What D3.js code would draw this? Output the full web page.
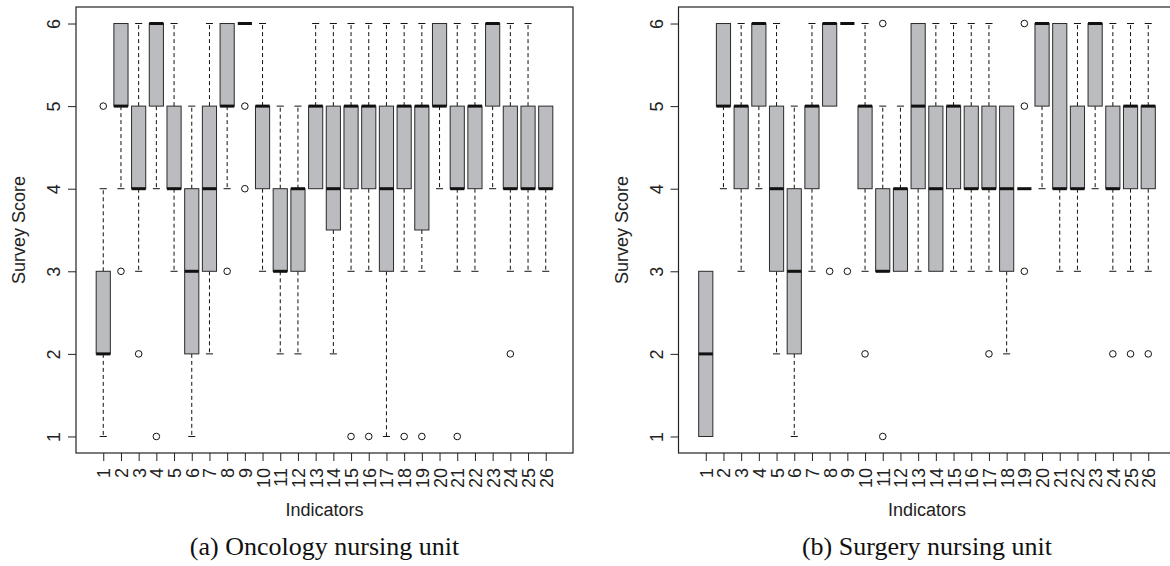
<!DOCTYPE html>
<html>
<head>
<meta charset="utf-8">
<script src="https://cdn.jsdelivr.net/npm/d3@7"></script>
<style>
  html, body { margin: 0; padding: 0; background: #fff; }
  svg { display: block; }
</style>
</head>
<body>
<svg id="chart" width="1170" height="566"></svg>
<script>
// ---------- data ----------
const indicators = [1,2,3,4,5,6,7,8,9,10,11,12,13,14,15,16,17,18,19,20,21,22,23,24,25,26];
const yTicks = [1,2,3,4,5,6];

// (a) Oncology nursing unit
const oncLow    = [1,4,3,4,3,1,2,4,6,3,2,2,4,2,3,3,1,3,3,4,3,3,4,3,3,3];
const oncQ1     = [2,5,4,5,4,2,3,5,6,4,3,3,4,3.5,4,4,3,4,3.5,5,4,4,5,4,4,4];
const oncMedian = [2,5,4,6,4,3,4,5,6,5,3,4,5,4,5,5,4,5,5,5,4,5,6,4,4,4];
const oncQ3     = [3,6,5,6,5,4,5,6,6,5,4,4,5,5,5,5,5,5,5,6,5,5,6,5,5,5];
const oncHigh   = [4,6,6,6,6,5,6,6,6,6,5,5,6,6,6,6,6,6,6,6,6,6,6,6,6,5];
const oncOut    = [[5],[3],[2],[1],[],[],[],[3],[5,4],[],[],[],[],[],[1],[1],[],[1],[1],[],[1],[],[],[2],[],[]];

// (b) Surgery nursing unit
const surLow    = [1,4,3,4,2,1,3,5,6,3,3,3,3,3,3,3,3,2,4,4,3,3,4,3,3,3];
const surQ1     = [1,5,4,5,3,2,4,5,6,4,3,3,4,3,4,4,4,3,4,5,4,4,5,4,4,4];
const surMedian = [2,5,5,6,4,3,5,6,6,5,3,4,5,4,5,4,4,4,4,6,4,4,6,4,5,5];
const surQ3     = [3,6,5,6,5,4,5,6,6,5,4,4,6,5,5,5,5,5,4,6,6,5,6,5,5,5];
const surHigh   = [3,6,6,6,6,5,6,6,6,6,5,5,6,6,6,6,6,5,4,6,6,6,6,6,6,6];
const surOut    = [[],[],[],[],[],[],[],[3],[3],[2],[6,1],[],[],[],[],[],[2],[],[6,5,3],[],[],[],[],[2],[2],[2]];

const yTitle = "Survey Score";
const xTitle = "Indicators";

// ---------- drawing ----------
const svg = d3.select("#chart");
const SANS = "'Liberation Sans', Arial, Helvetica, sans-serif";
const SERIF = "'Liberation Serif', 'Times New Roman', serif";

function panel(left, caption, low, q1, med, q3, high, outs) {
  const top = 7, bottom = 453, width = 497;
  const x = d3.scaleLinear().domain([-0.54, 27.54]).range([left, left + width]);
  const y = d3.scaleLinear().domain([0.8, 6.2]).range([bottom, top]);
  const unit = x(1) - x(0);
  const bw = unit * 0.8;
  const g = svg.append("g");

  const rows = indicators.map((k, i) => ({k, lo: low[i], q1: q1[i], md: med[i], q3: q3[i], hi: high[i], out: outs[i]}));

  // whiskers
  const wg = g.append("g").attr("stroke", "#111").attr("stroke-width", 1);
  rows.forEach(r => {
    if (r.hi > r.q3) {
      wg.append("line").attr("x1", x(r.k)).attr("x2", x(r.k)).attr("y1", y(r.q3)).attr("y2", y(r.hi))
        .attr("stroke-dasharray", "4,3");
      wg.append("line").attr("x1", x(r.k) - bw / 4).attr("x2", x(r.k) + bw / 4).attr("y1", y(r.hi)).attr("y2", y(r.hi));
    }
    if (r.lo < r.q1) {
      wg.append("line").attr("x1", x(r.k)).attr("x2", x(r.k)).attr("y1", y(r.q1)).attr("y2", y(r.lo))
        .attr("stroke-dasharray", "4,3");
      wg.append("line").attr("x1", x(r.k) - bw / 4).attr("x2", x(r.k) + bw / 4).attr("y1", y(r.lo)).attr("y2", y(r.lo));
    }
  });

  // boxes
  g.append("g").selectAll("rect").data(rows.filter(r => r.q3 > r.q1)).join("rect")
    .attr("x", r => x(r.k) - bw / 2).attr("width", bw)
    .attr("y", r => y(r.q3)).attr("height", r => y(r.q1) - y(r.q3))
    .attr("fill", "#bbbcbf").attr("stroke", "#2a2a2a").attr("stroke-width", 1);

  // medians
  g.append("g").selectAll("line").data(rows).join("line")
    .attr("x1", r => x(r.k) - bw / 2).attr("x2", r => x(r.k) + bw / 2)
    .attr("y1", r => y(r.md)).attr("y2", r => y(r.md))
    .attr("stroke", "#111").attr("stroke-width", 3);

  // outliers
  const pts = rows.flatMap(r => r.out.map(v => ({k: r.k, v})));
  g.append("g").selectAll("circle").data(pts).join("circle")
    .attr("cx", p => x(p.k)).attr("cy", p => y(p.v)).attr("r", 3.3)
    .attr("fill", "none").attr("stroke", "#111").attr("stroke-width", 1);

  // frame
  g.append("rect").attr("x", left).attr("y", top).attr("width", width).attr("height", bottom - top)
    .attr("fill", "none").attr("stroke", "#222").attr("stroke-width", 1.2);

  // y axis
  const ya = g.append("g").attr("transform", `translate(${left},0)`)
    .call(d3.axisLeft(y).tickValues(yTicks).tickSize(8).tickFormat(d3.format("d")));
  ya.select(".domain").remove();
  ya.selectAll(".tick line").attr("stroke", "#222");
  ya.selectAll(".tick text")
    .attr("transform", "rotate(-90)").attr("x", 0).attr("y", -16).attr("dy", 0)
    .attr("text-anchor", "middle").attr("fill", "#222")
    .style("font-family", SANS).style("font-size", "18px");

  // x axis
  const xa = g.append("g").attr("transform", `translate(0,${bottom})`)
    .call(d3.axisBottom(x).tickValues(indicators).tickSize(8).tickFormat(d3.format("d")));
  xa.select(".domain").remove();
  xa.selectAll(".tick line").attr("stroke", "#222");
  xa.selectAll(".tick text")
    .attr("transform", "rotate(-90)").attr("x", -15).attr("y", 6.5).attr("dy", 0)
    .attr("text-anchor", "end").attr("fill", "#222")
    .style("font-family", SANS).style("font-size", "18px");

  // titles
  g.append("text").attr("transform", `translate(${left - 51},${(top + bottom) / 2}) rotate(-90)`)
    .attr("text-anchor", "middle").attr("fill", "#222")
    .style("font-family", SANS).style("font-size", "18px").text(yTitle);
  g.append("text").attr("x", left + width / 2).attr("y", 516)
    .attr("text-anchor", "middle").attr("fill", "#222")
    .style("font-family", SANS).style("font-size", "18px").text(xTitle);
  g.append("text").attr("x", left + width / 2).attr("y", 555)
    .attr("text-anchor", "middle").attr("fill", "#111")
    .style("font-family", SERIF).style("font-size", "26px").text(caption);
}

panel(76, "(a) Oncology nursing unit", oncLow, oncQ1, oncMedian, oncQ3, oncHigh, oncOut);
panel(678.5, "(b) Surgery nursing unit", surLow, surQ1, surMedian, surQ3, surHigh, surOut);
</script>
</body>
</html>
